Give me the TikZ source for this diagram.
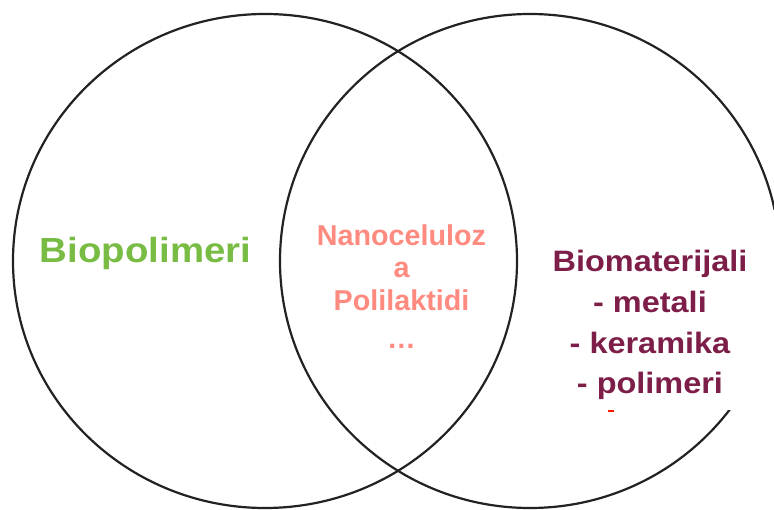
\documentclass[tikz,border=0pt]{standalone}
\usepackage{fontspec}
\setmainfont{Liberation Sans}
\newfontfamily\widefont[FakeStretch=1.1]{Liberation Sans}
\definecolor{bioGreen}{HTML}{78BC44}
\definecolor{nanoPink}{HTML}{FF8A80}
\definecolor{matMaroon}{HTML}{7D1E48}
\definecolor{lineGray}{HTML}{222222}
\tikzset{
  ring/.style={draw=lineGray, line width=2.2pt},
  lbl/.style={inner sep=0pt, anchor=base, align=center}
}
\begin{document}
\begin{tikzpicture}[x=1pt,y=-1pt]
\useasboundingbox (0,0) rectangle (774,510);
\fill[white] (0,0) rectangle (774,510);
% circles
\draw[ring] (265,261) ellipse [x radius=252, y radius=247];
\draw[ring] (530,261) ellipse [x radius=250, y radius=247];
% white box behind right label
\fill[white] (540,210) rectangle (774,410);
% labels (multi-line nodes: base = baseline of last line)
\node[lbl, text=bioGreen, font=\widefont\bfseries\fontsize{34.9}{40}\selectfont] (biopol) at (145.5,263) {Biopolimeri};
\node[lbl, text=nanoPink, font=\bfseries\fontsize{28.7}{32.5}\selectfont] (nano) at (401.5,348.5) {Nanoceluloz\\a\\Polilaktidi\\[5.5pt]\dots};
\node[lbl, text=matMaroon, font=\widefont\bfseries\fontsize{29.5}{40.7}\selectfont] (biomat) at (650,394) {Biomaterijali\\- metali\\- keramika\\- polimeri};
% cut-off fragment
\fill[red!80!orange] (608,410) rectangle (614,412.5);
\end{tikzpicture}
\end{document}
